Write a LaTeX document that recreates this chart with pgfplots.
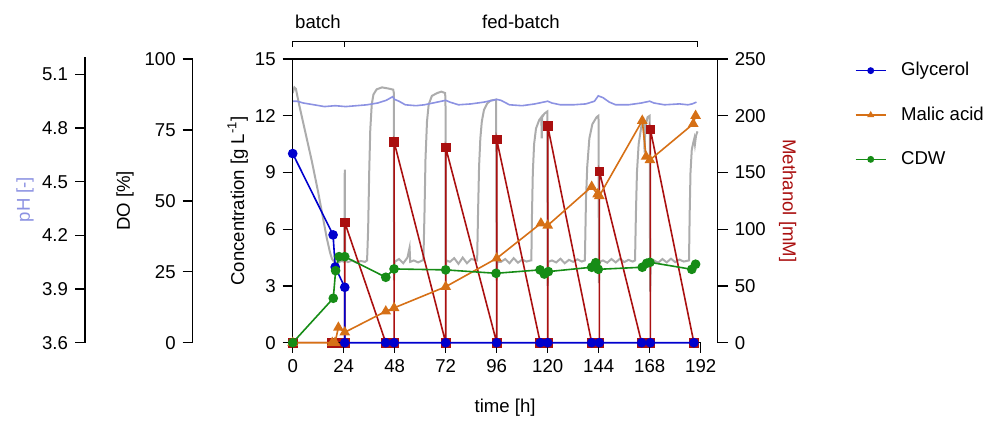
\documentclass[border=0pt]{standalone}
\usepackage{fontspec}
\setmainfont{Liberation Sans}
\usepackage{pgfplots}
\pgfplotsset{compat=1.18}

\definecolor{glyc}{RGB}{0,0,205}
\definecolor{malic}{RGB}{214,112,22}
\definecolor{cdw}{RGB}{22,140,22}
\definecolor{meoh}{RGB}{170,16,16}
\definecolor{dogray}{RGB}{172,172,172}
\definecolor{phblue}{RGB}{140,146,226}

\pgfplotsset{
  every axis/.append style={
    scale only axis,
    font=\fontsize{9.3}{11}\selectfont,
    tick align=outside,
    major tick length=5pt,
    tick style={black, line width=0.7pt},
    axis line style={line width=0.7pt},
    /pgf/number format/assume math mode=true,
  },
}

\begin{document}
\begin{tikzpicture}
\path (0,0) rectangle (495pt,210.5pt);

% pH scale (display only)
\begin{axis}[
  at={(42.5pt,39.15pt)}, anchor=south west,
  width=1pt, height=143.1pt,
  xmin=0, xmax=1, ymin=3.6, ymax=5.2,
  axis y line*=left, axis x line=none,
  ytick={3.6,3.9,4.2,4.5,4.8,5.1},
  yticklabel style={/pgf/number format/.cd, fixed, fixed zerofill, precision=1},
  ylabel={pH [-]},
  ylabel style={at={([xshift=-30pt]axis description cs:0,0.5)}, anchor=center, text=phblue},
]
\end{axis}

% DO scale (display only)
\begin{axis}[
  at={(96.35pt,39.15pt)}, anchor=south west,
  width=1pt, height=141.85pt,
  xmin=0, xmax=1, ymin=0, ymax=100,
  axis y line*=left, axis x line=none,
  ytick={0,25,50,75,100},
  ylabel={DO [\%]},
  ylabel style={at={([xshift=-33.8pt]axis description cs:0,0.5)}, anchor=center},
]
\end{axis}

% DO signal
\begin{axis}[
  at={(146.35pt,39.15pt)}, anchor=south west,
  width=204pt, height=141.85pt,
  xmin=0, xmax=192, ymin=0, ymax=100, hide axis,
]
\addplot[dogray, line width=1pt] coordinates {
  (0,88) (0.8,90) (1.5,89.5) (3,84) (6,74) (9,64) (12,53) (14,45) (16,37)
  (17.5,32) (18.5,29.5) (19.5,28.5) (21,28.2) (23,28.8) (24.3,28.5) (24.5,61)
  (24.7,29) (26,28.4) (28,29) (30,28.2) (32,28.8) (34,28.5) (35,29)
  (35.5,40) (36,60) (36.5,75) (37.2,84) (38,87.5) (39.5,89.3) (42,90)
  (45,89.6) (47.3,89.2) (47.6,88) (47.7,22) (48,28.5)
  (50,29.5) (52,28) (54,30) (55,33.5) (55.3,28.5) (57,29) (59,28.3) (61,29)
  (61.5,29) (62,45) (62.5,65) (63.2,78) (64,84) (65.5,87) (68,88) (70,88.5)
  (71.7,88) (71.9,86) (72,24) (72.3,29)
  (74,28.5) (76,29.8) (78,27.8) (80,30) (82,28) (84,29.5) (86.8,29)
  (87.2,45) (87.7,62) (88.3,72) (89,78) (90,82) (91.5,84.3) (93,85.3)
  (95.7,85.7) (96,22) (96.3,28.5)
  (98,28.5) (100,29.5) (102,28) (104,29.8) (106,28.2) (108,29.3) (110,28.6) (112,29)
  (112.3,29) (112.6,45) (113,60) (113.6,70) (114.5,75.5) (116,78.5) (117,79.5)
  (117.2,72) (117.4,79.5) (118.5,80.8) (119.8,81.5) (120,20) (120.2,28.5)
  (122,29) (124,28.3) (126,29.6) (128,28) (130,29.2) (132,28.5) (134,29.4)
  (136,28.6) (137.5,29)
  (138,50) (138.6,62) (139.6,72) (141,77) (143,79.5) (143.9,80) (144.1,21) (144.4,28.5)
  (146,29) (148,28.2) (150,29.5) (152,28.3) (154,29.6) (156,28.4) (158,29.2)
  (160,28.6) (161.1,29)
  (161.5,45) (162,60) (162.8,70) (164,76) (165,78) (165.3,75) (165.6,67)
  (165.9,76) (167,79.5) (168,80) (168.2,18) (168.5,28.5)
  (170,29) (172,28.2) (174,29.5) (176,28.3) (178,29.6) (180,28.4) (182,29.3)
  (184,28.6) (186.5,29)
  (186.8,45) (187.2,60) (187.8,68) (188.5,70.5) (189,72) (189.3,70) (189.8,73) (190.5,74.5)
};
\end{axis}

% pH signal
\begin{axis}[
  at={(146.35pt,39.15pt)}, anchor=south west,
  width=204pt, height=143.1pt,
  xmin=0, xmax=192, ymin=3.6, ymax=5.2, hide axis,
]
\addplot[phblue, line width=0.8pt] coordinates {
  (0,4.95) (2,4.95) (5,4.94) (10,4.93) (15,4.92) (20,4.925) (25,4.92) (30,4.925)
  (35,4.93) (40,4.94) (44,4.955) (47,4.975) (48,4.96) (50,4.95) (53,4.93)
  (58,4.925) (62,4.93) (66,4.94) (70,4.95) (72,4.955) (74,4.945) (78,4.93)
  (84,4.935) (90,4.945) (94,4.955) (96,4.96) (98,4.955) (102,4.93) (108,4.925)
  (114,4.935) (118,4.945) (120,4.95) (122,4.94) (126,4.93) (132,4.93)
  (138,4.935) (142,4.95) (143.8,4.98) (146,4.97) (149,4.945) (152,4.93)
  (158,4.93) (164,4.94) (168,4.95) (170,4.94) (175,4.93) (182,4.935)
  (186,4.93) (188,4.935) (190,4.945)
};
\end{axis}

% Methanol (right axis, top frame line)
\begin{axis}[
  at={(146.35pt,39.15pt)}, anchor=south west,
  width=212.5pt, height=141.85pt,
  xmin=0, xmax=200, ymin=0, ymax=250,
  axis y line*=right, axis x line*=top, xtick=\empty,
  ytick={0,50,100,150,200,250},
  ylabel={Methanol [mM]},
  ylabel style={at={([xshift=35pt]axis description cs:1,0.5)}, anchor=center, rotate=180, text=meoh},
]
\addplot[meoh, line width=0.8pt, mark=square*, mark size=2pt, mark options={solid, fill=meoh}] coordinates {
  (0,0) (18.6,0) (19.9,0) (24.5,0) (24.5,106) (43.8,0) (47.7,0) (47.7,177)
  (72,0) (72,172) (96,0) (96,179) (116.5,0) (120,0) (120,191) (140.7,0)
  (144.3,0) (144.3,151) (164.2,0) (168.3,0) (168.3,188) (188.8,0)
};
\end{axis}

% Concentrations (main axis)
\begin{axis}[
  at={(146.35pt,39.15pt)}, anchor=south west,
  width=204pt, height=141.85pt,
  xmin=0, xmax=192, ymin=0, ymax=15,
  axis x line*=bottom, axis y line*=left,
  xtick={0,24,48,72,96,120,144,168,192},
  ytick={0,3,6,9,12,15},
  xlabel={time [h]},
  xlabel style={at={([yshift=-32.3pt]axis description cs:0.5208,0)}, anchor=center},
  ylabel={Concentration [g L\textsuperscript{-1}]},
  ylabel style={at={([xshift=-27.5pt]axis description cs:0,0.5)}, anchor=center},
  clip=false,
  legend style={at={(axis description cs:1.378,0.995)}, anchor=north west,
    draw=none, fill=none, inner sep=0pt, outer sep=0pt, row sep=12pt,
    nodes={inner sep=1pt}},
  legend cell align=left,
  legend image code/.code={
    \path (13.8pt,0pt);
    \draw[#1, mark=none] (-7.5pt,0pt) -- (7.5pt,0pt);
    \draw[#1, mark size=1.3pt, only marks] plot coordinates {(0pt,0pt)};
  },
]
\addplot[glyc, line width=0.8pt, mark=*, mark size=2pt, mark options={solid, fill=glyc}] coordinates {
  (0,10.0) (19,5.7) (20,4.0) (24.5,2.93) (24.5,0) (43.8,0) (47.7,0) (72,0)
  (96,0) (116.5,0) (120,0) (140.7,0) (144.3,0) (164.2,0) (168.3,0) (188.8,0)
};
\addlegendentry{Glycerol}
\addplot[malic, line width=0.8pt, mark=triangle*, mark size=2.3pt, mark options={solid, fill=malic}] coordinates {
  (0,0) (18.6,0) (19.9,0) (21.5,0.8) (24.5,0.55) (43.8,1.66) (47.7,1.84)
  (72,2.96) (96,4.46) (116.8,6.31) (120,6.2) (140.7,8.25) (143.5,7.85)
  (144.3,7.76) (164.5,11.74) (166.3,9.84) (168.1,9.66) (188.5,11.57) (189.6,12.0)
};
\addlegendentry{Malic acid}
\addplot[cdw, line width=0.8pt, mark=*, mark size=2pt, mark options={solid, fill=cdw}] coordinates {
  (0,0) (19.1,2.35) (20.2,3.81) (21.8,4.55) (24.5,4.55) (43.8,3.46) (47.7,3.90)
  (72,3.85) (95.7,3.67) (116.4,3.85) (118.4,3.63) (120.3,3.76) (140.7,3.99)
  (142.6,4.23) (143.8,3.88) (164.5,3.99) (166.6,4.2) (168.1,4.25) (187.8,3.88)
  (189.6,4.15)
};
\addlegendentry{CDW}
% batch / fed-batch bracket
\draw[line width=0.7pt] (axis cs:0,15.65) -- (axis cs:0,15.92) -- (axis cs:190.5,15.92) -- (axis cs:190.5,15.65);
\draw[line width=0.7pt] (axis cs:24.5,15.92) -- (axis cs:24.5,15.65);
\node at (axis cs:11.9,16.97) {batch};
\node at (axis cs:107.4,16.97) {fed-batch};
\end{axis}
\end{tikzpicture}
\end{document}
